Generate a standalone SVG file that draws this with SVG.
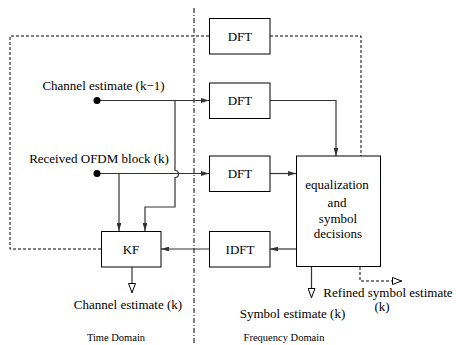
<svg xmlns="http://www.w3.org/2000/svg" width="456" height="345" viewBox="0 0 456 345">
<style>
text{font-family:"Liberation Serif","Times New Roman",serif;font-size:13px;fill:#000}
.sm{font-size:10.5px}
.box{fill:#fff;stroke:#000;stroke-width:1}
.ln{fill:none;stroke:#333;stroke-width:1.2}
.ds{fill:none;stroke:#000;stroke-width:1;stroke-dasharray:3,2}
.dd{fill:none;stroke:#000;stroke-width:1;stroke-dasharray:5,2,1,2}
</style>
<defs>
<marker id="a" viewBox="0 0 10 6" refX="10" refY="3" markerWidth="8" markerHeight="4.8" markerUnits="userSpaceOnUse" orient="auto"><path d="M0,0L10,3L0,6z" fill="#333"/></marker>
<marker id="o" viewBox="0 0 10 8" refX="10" refY="4" markerWidth="10" markerHeight="8" markerUnits="userSpaceOnUse" orient="auto"><path d="M0.5,0.5L9.5,4L0.5,7.5z" fill="#fff" stroke="#000" stroke-width="1"/></marker>
</defs>
<g id="connectors">
<line class="dd" x1="194" y1="8" x2="194" y2="345"/>
<path class="ds" d="M209,36H10V249H101"/>
<path class="ds" d="M270,36H361V156"/>
<path class="ln" d="M97,100.5H209" marker-end="url(#a)"/>
<path class="ln" d="M175,100.5V170.5a3.5,3.5 0 0 1 0,7V207H145V231" marker-end="url(#a)"/>
<path class="ln" d="M97,173.5H209" marker-end="url(#a)"/>
<path class="ln" d="M119,173.5V231" marker-end="url(#a)"/>
<path class="ln" d="M270,100.5H336V156" marker-end="url(#a)"/>
<path class="ln" d="M270,173.5H296" marker-end="url(#a)"/>
<path class="ln" d="M296,249H270" marker-end="url(#a)"/>
<path class="ln" d="M209,249H161" marker-end="url(#a)"/>
<path class="ln" d="M132,267V293" marker-end="url(#o)"/>
<path class="ln" d="M311.5,267V298" marker-end="url(#o)"/>
<path class="ds" d="M360,267V281H402" marker-end="url(#o)"/>
<circle cx="97" cy="100.5" r="3.5" fill="#000"/>
<circle cx="97" cy="173.5" r="3.5" fill="#000"/>
</g>
<g id="dft1"><rect class="box" x="209.5" y="18.5" width="60.5" height="35.5"/><text x="240" y="40.5" text-anchor="middle">DFT</text></g>
<g id="dft2"><rect class="box" x="209.5" y="83" width="60.5" height="35.5"/><text x="240" y="105" text-anchor="middle">DFT</text></g>
<g id="dft3"><rect class="box" x="209.5" y="156" width="60.5" height="35.5"/><text x="240" y="178" text-anchor="middle">DFT</text></g>
<g id="idft"><rect class="box" x="209.5" y="231.5" width="60.5" height="35.5"/><text x="240" y="253.5" text-anchor="middle">IDFT</text></g>
<g id="kf"><rect class="box" x="101.5" y="231.5" width="59.5" height="35.5"/><text x="131" y="253.5" text-anchor="middle">KF</text></g>
<g id="eq"><rect class="box" x="296.5" y="156" width="84" height="110.5"/>
<text x="337" y="189" text-anchor="middle">equalization</text>
<text x="337" y="207" text-anchor="middle">and</text>
<text x="338" y="223" text-anchor="middle">symbol</text>
<text x="338" y="238" text-anchor="middle">decisions</text></g>
<g id="labels">
<text x="103.5" y="90" text-anchor="middle">Channel estimate (k−1)</text>
<text x="99" y="163" text-anchor="middle">Received OFDM block (k)</text>
<text x="128" y="309" text-anchor="middle">Channel estimate (k)</text>
<text x="292.5" y="318" text-anchor="middle">Symbol estimate (k)</text>
<text x="388" y="297" text-anchor="middle">Refined symbol estimate</text>
<text x="382" y="310.5" text-anchor="middle">(k)</text>
<text class="sm" x="116" y="341" text-anchor="middle">Time Domain</text>
<text class="sm" x="284" y="341" text-anchor="middle">Frequency Domain</text>
</g>
</svg>
